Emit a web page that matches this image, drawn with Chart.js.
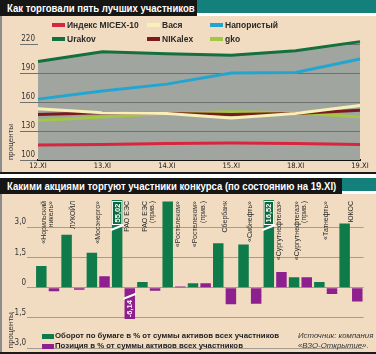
<!DOCTYPE html>
<html lang="ru">
<head>
<meta charset="utf-8">
<title>Конкурс частных инвесторов</title>
<script src="https://cdn.jsdelivr.net/npm/chart.js@4.4.1/dist/chart.umd.min.js"></script>
<style>
  html, body { margin: 0; background: #fff; }
  #pagina { position: relative; width: 376px; height: 354px; overflow: hidden; font-family: "Liberation Sans", Arial, sans-serif; }
  .titulo { position: absolute; left: 0; background: #161616; color: #fff; font-weight: bold; font-size: 10.5px; height: 16px; line-height: 16px; padding-left: 7px; box-sizing: border-box; white-space: nowrap; overflow: hidden; }
  .titulo span { display: inline-block; transform-origin: left center; }
  .faixa { position: absolute; background: #14807c; }
  .painel { position: absolute; left: 0; width: 376px; background: #f1dcc1; border-left: 2px solid #8c8c8c; box-sizing: border-box; }
  .borda { position: absolute; left: 0; width: 376px; background: #1a1a1a; }
  canvas { position: absolute; left: 0; }
  .leg { position: absolute; font-weight: bold; font-size: 8.5px; color: #2a2a2a; white-space: nowrap; height: 10px; line-height: 10px; }
  .leg .cor { position: absolute; left: 0; }
  #legendaBarras .leg { font-size: 7.8px; color: #222; }
  .fonte { position: absolute; left: 298px; font-style: italic; font-size: 7.8px; color: #333; white-space: nowrap; line-height: 10px; }
</style>
</head>
<body>
<div id="pagina">
  <div class="titulo" style="top:0;width:197px"><span style="transform:scaleX(0.91)">Как торговали пять лучших участников</span></div>
  <div class="faixa" style="left:197px;top:0;width:179px;height:13px"></div>
  <div class="painel" style="top:16px;height:156px"></div>
  <canvas id="graficoLinhas" width="376" height="157" style="top:15px"></canvas>
  <div id="legendaLinhas"></div>
  <div class="borda" style="top:172px;height:2px"></div>

  <div class="titulo" style="top:178px;width:342px"><span style="transform:scaleX(0.91)">Какими акциями торгуют участники конкурса (по состоянию на 19.XI)</span></div>
  <div class="faixa" style="left:342px;top:178px;width:34px;height:13px"></div>
  <div class="painel" style="top:194px;height:158px"></div>
  <canvas id="graficoBarras" width="376" height="160" style="top:194px"></canvas>
  <div id="legendaBarras"></div>
  <div class="fonte" style="top:331px">Источник: компания</div>
  <div class="fonte" style="top:341px">«ВЗО-Открытие».</div>
  <div class="borda" style="top:352px;height:2px"></div>
</div>

<script>
// ---- верхний график: индексы участников ----
const datas = ["12.XI", "13.XI", "14.XI", "15.XI", "18.XI", "19.XI"];
const micex = [115.5, 116, 117, 117.5, 117, 116];
const vasya = [153, 149, 148, 143.5, 148, 156.5];
const naporisty = [163, 171.5, 178.5, 190, 190.5, 204.5];
const urakov = [202, 212, 210, 208.5, 213, 222.5];
const nikalex = [147, 149, 148, 147, 148, 151.5];
const gko = [141, 144.5, 148, 150, 149, 144.5];
const nomesLinhas = ["Индекс MICEX-10", "Вася", "Напористый", "Urakov", "NIKalex", "gko"];
const coresLinhas = ["#d7263d", "#f7f0b8", "#22a6cf", "#14703e", "#7d1a1e", "#a3c644"];
const ticksLinhas = [100, 130, 160, 190, 220];

// ---- нижний график: акции ----
const acoes = [
  ["«Норильский", "никель»"], "ЛУКОЙЛ", "«Мосэнерго»", "РАО ЕЭС", ["РАО ЕЭС", "(прив.)"],
  "«Ростелеком»", ["«Ростелеком»", "(прив.)"], "Сбербанк", "«Сибнефть»", "«Сургутнефтегаз»",
  ["«Сургутнефтегаз»", "(прив.)"], "«Татнефть»", "ЮКОС"
];
const oborot = [1.08, 2.63, 1.73, 55.02, 0.28, 4.27, 0.22, 2.21, 2.14, 16.52, 0.52, 0.28, 3.18];
const pozicia = [-0.18, -0.1, 0.57, -6.14, -0.15, 0.06, 0.22, -0.82, -0.79, 0.78, 0.52, -0.31, -0.69];
const nomesBarras = ["Оборот по бумаге в % от суммы активов всех участников", "Позиция в % от суммы активов всех участников"];
const coresBarras = ["#0f7b4b", "#8d1f8e"];
const ticksBarras = [-3, -1.5, 0, 1.5, 3];
const yMin = -3, yMax = 4.35, corte = -1.55;

const fonteEstreita = '"Liberation Sans Narrow", "DejaVu Sans Condensed", "Liberation Sans", sans-serif';

// legendas em HTML
const legLinhas = document.getElementById("legendaLinhas");
nomesLinhas.forEach((nome, i) => {
  const d = document.createElement("div");
  d.className = "leg";
  d.style.left = [52, 147, 210][i % 3] + "px";
  d.style.top = [19.5, 33.8][Math.floor(i / 3)] + "px";
  d.style.paddingLeft = "15px";
  d.innerHTML = `<span class="cor" style="top:3px;width:13px;height:4px;background:${coresLinhas[i]}"></span>${nome}`;
  legLinhas.appendChild(d);
});
const legBarras = document.getElementById("legendaBarras");
nomesBarras.forEach((nome, i) => {
  const d = document.createElement("div");
  d.className = "leg";
  d.style.left = "42px";
  d.style.top = (331 + i * 10) + "px";
  d.style.paddingLeft = "13px";
  d.innerHTML = `<span class="cor" style="top:2.5px;width:12px;height:5px;background:${coresBarras[i]}"></span>${nome}`;
  legBarras.appendChild(d);
});

// linhas de grade por cima da área cinza (só dentro da área de Urakov)
const gradeSobreArea = {
  id: "gradeSobreArea",
  beforeDatasetsDraw(chart) {
    const { ctx, chartArea, scales: { y } } = chart;
    const pts = chart.getDatasetMeta(3).data;
    ctx.save();
    ctx.beginPath();
    ctx.moveTo(pts[0].x, chartArea.bottom);
    pts.forEach(p => ctx.lineTo(p.x, p.y));
    ctx.lineTo(pts[pts.length - 1].x, chartArea.bottom);
    ctx.closePath();
    ctx.clip();
    ctx.strokeStyle = "#6e716d";
    ctx.lineWidth = 1;
    y.ticks.forEach(t => {
      const py = Math.round(y.getPixelForValue(t.value)) + 0.5;
      ctx.beginPath();
      ctx.moveTo(chartArea.left, py);
      ctx.lineTo(chartArea.right, py);
      ctx.stroke();
    });
    ctx.restore();
  }
};

const serieLinhas = [micex, vasya, naporisty, urakov, nikalex, gko];

new Chart(document.getElementById("graficoLinhas"), {
  type: "line",
  data: {
    labels: datas,
    datasets: nomesLinhas.map((nome, i) => ({
      label: nome,
      data: serieLinhas[i],
      borderColor: coresLinhas[i],
      backgroundColor: i === 3 ? "#a0a5a0" : coresLinhas[i],
      borderWidth: 3,
      pointRadius: 0,
      tension: 0,
      fill: i === 3 ? "start" : false
    }))
  },
  options: {
    responsive: false,
    animation: false,
    devicePixelRatio: 1,
    layout: { padding: { top: 24.2, right: 16, bottom: 0, left: 0 } },
    plugins: {
      legend: { display: false },
      tooltip: { enabled: false },
      filler: { drawTime: "beforeDatasetsDraw" }
    },
    scales: {
      x: {
        grid: { display: false, drawTicks: false },
        border: { color: "#111", width: 2 },
        ticks: { font: { family: fonteEstreita, size: 7.5 }, color: "#222", padding: 2, maxRotation: 0, autoSkip: false },
        afterFit: s => { s.height = 12; }
      },
      y: {
        min: 100,
        max: 225,
        afterBuildTicks: s => { s.ticks = ticksLinhas.map(v => ({ value: v })); },
        grid: { color: "transparent", tickColor: "#6e716d", tickLength: 18 },
        border: { display: false },
        ticks: { font: { family: fonteEstreita, size: 8 }, color: "#333", padding: -15, labelOffset: -5 },
        title: { display: true, text: "проценты", align: "start", color: "#333", font: { family: "Liberation Sans", size: 8 }, padding: { top: 6 } },
        afterFit: s => { s.width = 38; }
      }
    }
  },
  plugins: [gradeSobreArea]
});

// nomes das ações (verticais, no alto) e marcas de quebra
const rotulosAcoes = {
  id: "rotulosAcoes",
  afterDatasetsDraw(chart) {
    const { ctx, chartArea, scales: { x, y } } = chart;
    const verde = chart.getDatasetMeta(0).data;
    const roxo = chart.getDatasetMeta(1).data;
    ctx.save();

    // quebras para cima
    oborot.forEach((v, i) => {
      if (v <= yMax) return;
      const b = verde[i];
      const l = b.x - b.width / 2, w = b.width, t = chartArea.top;
      ctx.fillStyle = "#0b6a3d";
      ctx.fillRect(l, t + 1, w, 24);
      ctx.strokeStyle = "#fff";
      ctx.lineWidth = 1;
      ctx.strokeRect(l + 0.5, t + 1.5, w - 1, 23);
      ctx.lineWidth = 2;
      ctx.beginPath();
      ctx.moveTo(l - 1, t + 30);
      ctx.lineTo(l + w + 1, t + 25);
      ctx.stroke();
      ctx.save();
      ctx.translate(b.x, t + 13);
      ctx.rotate(-Math.PI / 2);
      ctx.fillStyle = "#fff";
      ctx.font = "bold 7.5px 'Liberation Sans'";
      ctx.textAlign = "center";
      ctx.textBaseline = "middle";
      ctx.fillText(v.toFixed(2).replace(".", ","), 0, 0.5);
      ctx.restore();
    });

    // quebras para baixo
    pozicia.forEach((v, i) => {
      if (v >= corte) return;
      const b = roxo[i];
      const l = b.x - b.width / 2, w = b.width, z = y.getPixelForValue(0);
      ctx.strokeStyle = "#fff";
      ctx.lineWidth = 2;
      ctx.beginPath();
      ctx.moveTo(l - 1, z + 11);
      ctx.lineTo(l + w + 1, z + 6);
      ctx.stroke();
      ctx.save();
      ctx.translate(b.x, z + 21);
      ctx.rotate(-Math.PI / 2);
      ctx.fillStyle = "#fff";
      ctx.font = "bold 7.5px 'Liberation Sans'";
      ctx.textAlign = "center";
      ctx.textBaseline = "middle";
      ctx.fillText(v.toFixed(2).replace(".", ","), 0, 0.5);
      ctx.restore();
    });

    // nomes
    ctx.fillStyle = "#2a2a2a";
    ctx.font = "7px 'Liberation Sans'";
    ctx.textAlign = "right";
    ctx.textBaseline = "middle";
    acoes.forEach((nome, i) => {
      const linhas = Array.isArray(nome) ? nome : [nome];
      const desvio = oborot[i] > 3.5 ? 4 : 0;
      const cx = x.getPixelForValue(i) + desvio;
      linhas.forEach((txt, j) => {
        ctx.save();
        ctx.translate(cx + (j - (linhas.length - 1) / 2) * 7.5, chartArea.top + 1);
        ctx.rotate(-Math.PI / 2);
        ctx.fillText(txt, 0, 0);
        ctx.restore();
      });
    });
    ctx.restore();
  }
};

new Chart(document.getElementById("graficoBarras"), {
  type: "bar",
  data: {
    labels: acoes,
    datasets: [
      { label: nomesBarras[0], data: oborot.map(v => Math.min(v, yMax)), backgroundColor: coresBarras[0] },
      { label: nomesBarras[1], data: pozicia.map(v => Math.max(v, corte)), backgroundColor: coresBarras[1] }
    ]
  },
  options: {
    responsive: false,
    animation: false,
    devicePixelRatio: 1,
    layout: { padding: { top: 6, right: 12.4, bottom: 2, left: 0 } },
    datasets: { bar: { barPercentage: 0.83, categoryPercentage: 1 } },
    plugins: { legend: { display: false }, tooltip: { enabled: false } },
    scales: {
      x: { display: false },
      y: {
        min: yMin,
        max: yMax,
        afterBuildTicks: s => { s.ticks = ticksBarras.map(v => ({ value: v })); },
        grid: { color: "#a39c93", tickLength: 8 },
        border: { display: false },
        ticks: {
          font: { family: fonteEstreita, size: 8 },
          color: "#333",
          padding: 1,
          labelOffset: -5,
          callback: v => v === 0 ? "0" : v.toFixed(1).replace(".", ",")
        },
        title: { display: true, text: "проценты", align: "start", color: "#333", font: { family: "Liberation Sans", size: 8 }, padding: { top: 6 } },
        afterFit: s => { s.width = 35; }
      }
    }
  },
  plugins: [rotulosAcoes]
});
</script>
</body>
</html>
